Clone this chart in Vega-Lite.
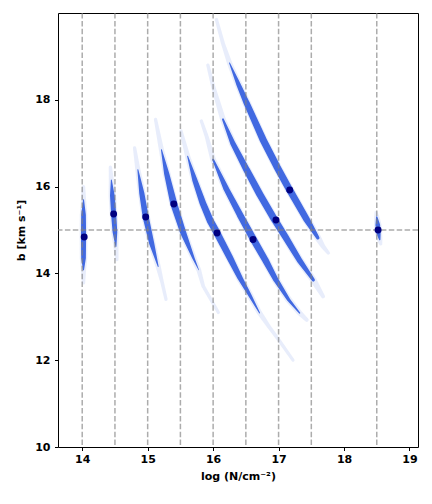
{
  "$schema": "https://vega.github.io/schema/vega-lite/v6.json",
  "width": 360,
  "height": 434,
  "autosize": "none",
  "padding": {"left": 58, "top": 13, "right": 14, "bottom": 57},
  "background": "white",
  "config": {
    "view": {"stroke": "black", "strokeWidth": 1},
    "font": "DejaVu Sans",
    "axis": {
      "domain": false,
      "grid": false,
      "ticks": true,
      "tickColor": "black",
      "tickSize": 3.5,
      "tickWidth": 1,
      "labelFont": "DejaVu Sans",
      "labelFontWeight": "bold",
      "labelFontSize": 11,
      "labelColor": "black",
      "titleFont": "DejaVu Sans",
      "titleFontWeight": "bold",
      "titleFontSize": 11,
      "titleColor": "black"
    }
  },
  "resolve": {"scale": {"size": "independent"}},
  "datasets": {
    "bands": [
      {"comp": "c1", "logN": 14.02, "b": 16.0, "d": 0.05},
      {"comp": "c1", "logN": 14.02, "b": 15.7, "d": 0.35},
      {"comp": "c1", "logN": 14.02, "b": 15.35, "d": 0.75},
      {"comp": "c1", "logN": 14.02, "b": 14.85, "d": 0.8},
      {"comp": "c1", "logN": 14.02, "b": 14.35, "d": 0.75},
      {"comp": "c1", "logN": 14.02, "b": 14.08, "d": 0.35},
      {"comp": "c1", "logN": 14.02, "b": 13.78, "d": 0.05},
      {"comp": "c2", "logN": 14.43, "b": 16.45, "d": 0.05},
      {"comp": "c2", "logN": 14.445, "b": 16.15, "d": 0.35},
      {"comp": "c2", "logN": 14.46, "b": 15.8, "d": 0.75},
      {"comp": "c2", "logN": 14.48, "b": 15.37, "d": 0.8},
      {"comp": "c2", "logN": 14.5, "b": 14.95, "d": 0.75},
      {"comp": "c2", "logN": 14.515, "b": 14.62, "d": 0.35},
      {"comp": "c2", "logN": 14.53, "b": 14.32, "d": 0.05},
      {"comp": "c3", "logN": 14.8, "b": 16.89, "d": 0.05},
      {"comp": "c3", "logN": 14.85, "b": 16.39, "d": 0.35},
      {"comp": "c3", "logN": 14.91, "b": 15.85, "d": 0.8},
      {"comp": "c3", "logN": 14.97, "b": 15.3, "d": 0.9},
      {"comp": "c3", "logN": 15.06, "b": 14.7, "d": 0.8},
      {"comp": "c3", "logN": 15.16, "b": 14.16, "d": 0.35},
      {"comp": "c3", "logN": 15.22, "b": 13.8, "d": 0.1},
      {"comp": "c3", "logN": 15.28, "b": 13.4, "d": 0.05},
      {"comp": "c4", "logN": 15.12, "b": 17.55, "d": 0.05},
      {"comp": "c4", "logN": 15.21, "b": 16.85, "d": 0.35},
      {"comp": "c4", "logN": 15.29, "b": 16.3, "d": 0.8},
      {"comp": "c4", "logN": 15.4, "b": 15.6, "d": 1.0},
      {"comp": "c4", "logN": 15.54, "b": 14.95, "d": 0.9},
      {"comp": "c4", "logN": 15.7, "b": 14.35, "d": 0.5},
      {"comp": "c4", "logN": 15.78, "b": 14.08, "d": 0.3},
      {"comp": "c4", "logN": 15.85, "b": 13.7, "d": 0.1},
      {"comp": "c4", "logN": 16.08, "b": 13.1, "d": 0.03},
      {"comp": "c5", "logN": 15.51, "b": 17.28, "d": 0.05},
      {"comp": "c5", "logN": 15.61, "b": 16.7, "d": 0.35},
      {"comp": "c5", "logN": 15.72, "b": 16.15, "d": 0.8},
      {"comp": "c5", "logN": 15.84, "b": 15.63, "d": 0.95},
      {"comp": "c5", "logN": 15.96, "b": 15.2, "d": 1.0},
      {"comp": "c5", "logN": 16.06, "b": 14.93, "d": 1.0},
      {"comp": "c5", "logN": 16.25, "b": 14.38, "d": 0.95},
      {"comp": "c5", "logN": 16.41, "b": 13.9, "d": 0.8},
      {"comp": "c5", "logN": 16.56, "b": 13.5, "d": 0.6},
      {"comp": "c5", "logN": 16.71, "b": 13.09, "d": 0.35},
      {"comp": "c5", "logN": 16.85, "b": 12.78, "d": 0.15},
      {"comp": "c5", "logN": 17.02, "b": 12.43, "d": 0.08},
      {"comp": "c5", "logN": 17.22, "b": 12.0, "d": 0.03},
      {"comp": "c6", "logN": 15.82, "b": 17.51, "d": 0.05},
      {"comp": "c6", "logN": 15.9, "b": 17.16, "d": 0.15},
      {"comp": "c6", "logN": 16.0, "b": 16.62, "d": 0.45},
      {"comp": "c6", "logN": 16.2, "b": 15.95, "d": 0.85},
      {"comp": "c6", "logN": 16.41, "b": 15.35, "d": 0.95},
      {"comp": "c6", "logN": 16.61, "b": 14.8, "d": 1.0},
      {"comp": "c6", "logN": 16.8, "b": 14.3, "d": 0.95},
      {"comp": "c6", "logN": 16.96, "b": 13.85, "d": 0.8},
      {"comp": "c6", "logN": 17.15, "b": 13.4, "d": 0.6},
      {"comp": "c6", "logN": 17.32, "b": 13.09, "d": 0.4},
      {"comp": "c6", "logN": 17.43, "b": 12.93, "d": 0.15},
      {"comp": "c7", "logN": 15.92, "b": 18.8, "d": 0.05},
      {"comp": "c7", "logN": 16.0, "b": 18.31, "d": 0.2},
      {"comp": "c7", "logN": 16.15, "b": 17.55, "d": 0.45},
      {"comp": "c7", "logN": 16.3, "b": 17.0, "d": 0.8},
      {"comp": "c7", "logN": 16.51, "b": 16.39, "d": 0.95},
      {"comp": "c7", "logN": 16.71, "b": 15.83, "d": 1.0},
      {"comp": "c7", "logN": 16.91, "b": 15.31, "d": 1.0},
      {"comp": "c7", "logN": 17.1, "b": 14.85, "d": 0.95},
      {"comp": "c7", "logN": 17.32, "b": 14.3, "d": 0.85},
      {"comp": "c7", "logN": 17.53, "b": 13.85, "d": 0.6},
      {"comp": "c7", "logN": 17.68, "b": 13.47, "d": 0.15},
      {"comp": "c8", "logN": 16.05, "b": 19.85, "d": 0.05},
      {"comp": "c8", "logN": 16.15, "b": 19.3, "d": 0.15},
      {"comp": "c8", "logN": 16.25, "b": 18.85, "d": 0.35},
      {"comp": "c8", "logN": 16.38, "b": 18.38, "d": 0.7},
      {"comp": "c8", "logN": 16.51, "b": 17.93, "d": 0.9},
      {"comp": "c8", "logN": 16.76, "b": 17.09, "d": 1.0},
      {"comp": "c8", "logN": 16.97, "b": 16.47, "d": 1.0},
      {"comp": "c8", "logN": 17.17, "b": 15.92, "d": 1.0},
      {"comp": "c8", "logN": 17.43, "b": 15.24, "d": 0.95},
      {"comp": "c8", "logN": 17.6, "b": 14.82, "d": 0.6},
      {"comp": "c8", "logN": 17.68, "b": 14.62, "d": 0.25},
      {"comp": "c8", "logN": 17.76, "b": 14.47, "d": 0.08},
      {"comp": "c9", "logN": 18.49, "b": 15.4, "d": 0.05},
      {"comp": "c9", "logN": 18.5, "b": 15.3, "d": 0.4},
      {"comp": "c9", "logN": 18.515, "b": 15.12, "d": 0.75},
      {"comp": "c9", "logN": 18.525, "b": 14.95, "d": 0.75},
      {"comp": "c9", "logN": 18.545, "b": 14.78, "d": 0.4},
      {"comp": "c9", "logN": 18.56, "b": 14.68, "d": 0.05}
    ],
    "best": [
      {"comp": "c1", "logN": 14.03, "b": 14.84},
      {"comp": "c2", "logN": 14.48, "b": 15.37},
      {"comp": "c3", "logN": 14.97, "b": 15.3},
      {"comp": "c4", "logN": 15.4, "b": 15.6},
      {"comp": "c5", "logN": 16.06, "b": 14.93},
      {"comp": "c6", "logN": 16.61, "b": 14.78},
      {"comp": "c7", "logN": 16.96, "b": 15.23},
      {"comp": "c8", "logN": 17.17, "b": 15.92},
      {"comp": "c9", "logN": 18.52, "b": 15.0}
    ],
    "vlines": [
      {"logN": 14.0}, {"logN": 14.5}, {"logN": 15.0}, {"logN": 15.5},
      {"logN": 16.0}, {"logN": 16.5}, {"logN": 17.0}, {"logN": 17.5}, {"logN": 18.5}
    ],
    "hlines": [{"b": 15.0}]
  },
  "encoding": {
    "x": {
      "field": "logN", "type": "quantitative",
      "scale": {"domain": [13.63, 19.13], "nice": false, "zero": false},
      "axis": {"title": "log (N/cm⁻²)", "values": [14, 15, 16, 17, 18, 19], "labelPadding": 3, "titlePadding": 6}
    },
    "y": {
      "field": "b", "type": "quantitative",
      "scale": {"domain": [10, 20], "nice": false, "zero": false},
      "axis": {"title": "b [km s⁻¹]", "values": [10, 12, 14, 16, 18], "labelPadding": 4.5, "titlePadding": 8}
    }
  },
  "layer": [
    {
      "data": {"name": "bands"},
      "mark": {"type": "trail", "color": "#4169E1", "opacity": 0.12},
      "encoding": {
        "detail": {"field": "comp"},
        "order": {"field": "b", "sort": "descending"},
        "size": {"field": "d", "type": "quantitative", "scale": {"domain": [0, 1], "range": [3, 9]}, "legend": null}
      }
    },
    {
      "data": {"name": "bands"},
      "transform": [{"filter": "datum.d >= 0.3"}],
      "mark": {"type": "trail", "color": "#4169E1", "opacity": 1},
      "encoding": {
        "detail": {"field": "comp"},
        "order": {"field": "b", "sort": "descending"},
        "size": {"field": "d", "type": "quantitative", "scale": {"domain": [0.3, 1], "range": [0.5, 7]}, "legend": null}
      }
    },
    {
      "data": {"name": "vlines"},
      "mark": {"type": "rule", "color": "#808080", "opacity": 0.65, "strokeWidth": 1.5, "strokeDash": [5.5, 2.4]},
      "encoding": {"y": null}
    },
    {
      "data": {"name": "hlines"},
      "mark": {"type": "rule", "color": "#808080", "opacity": 0.65, "strokeWidth": 1.5, "strokeDash": [5.5, 2.4]},
      "encoding": {"x": null}
    },
    {
      "data": {"name": "best"},
      "mark": {"type": "circle", "color": "#000080", "opacity": 1, "size": 48}
    }
  ]
}
